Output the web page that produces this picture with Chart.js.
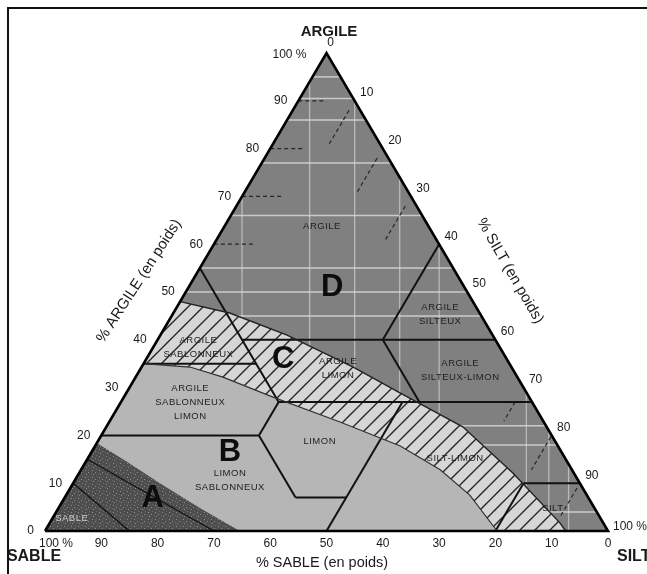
<!DOCTYPE html>
<html lang="fr">
<head>
<meta charset="UTF-8">
<title>Triangle des textures</title>
<script src="https://cdn.jsdelivr.net/npm/chart.js@4.4.0/dist/chart.umd.min.js"></script>
<style>
  html, body { margin: 0; padding: 0; background: #fff; }
  canvas { display: block; }
</style>
</head>
<body>
<canvas id="texture" width="647" height="574"></canvas>
<script>
// every point is [argile %, silt %] ; sable = 100 - argile - silt
const triangle = [[0, 0], [0, 100], [100, 0]];

// curved limits of the hatched band (group C)
const bandTop = [[48, 0], [45.6, 10], [41, 22.5], [34.3, 37.6], [28.9, 48.6], [21.8, 63.3], [12.1, 77.1], [1.7, 90.6], [0, 92.5]];
const bandBottom = [[35, 0], [34.3, 8.6], [32.2, 15.5], [28, 26.5], [22.8, 41], [17.8, 54.2], [12.8, 63.8], [7.5, 71.7], [0, 80.3]];

// group A, lower left corner
const zoneA = [[18.4, 0], [14.4, 7.5], [10, 15.4], [4.8, 25.1], [0, 34.6], [0, 0]];

// texture class limits
const classLines = [
  [[55, 0], [27, 28]],
  [[35, 0], [35, 20]],
  [[40, 15], [40, 60]],
  [[40, 40], [60, 40]],
  [[27, 28], [27, 73]],
  [[27, 53], [40, 40]],
  [[0, 50], [27, 50]],
  [[20, 28], [27, 28]],
  [[20, 0], [20, 28]],
  [[20, 28], [7, 41]],
  [[7, 41], [7, 50]],
  [[0, 80], [10, 80]],
  [[10, 80], [10, 90]]
];
const sandLines = [
  [[10, 0], [0, 15]],
  [[15, 0], [0, 30]]
];

// light grid and dashed guides seen in the dark zone
const gridClay = [95, 90.5, 86, 77, 66, 55, 50, 45, 22, 18, 4];
const gridX = [35, 47, 55, 63, 70, 85.5, 89.5, 93];
const guides = [
  [[60, 0], [60, 7]], [[70, 0], [70, 7]], [[80, 0], [80, 6]], [[90, 0], [90, 5]],
  [[88, 10], [81, 10]], [[78, 20], [71, 20]], [[68, 30], [61, 30]],
  [[27, 70], [23, 70]], [[19.7, 80], [12.8, 80]], [[9, 90], [3, 90]]
];

const sandTicks = [100, 90, 80, 70, 60, 50, 40, 30, 20, 10, 0];
const clayTicks = [0, 10, 20, 30, 40, 50, 60, 70, 80, 90, 100];
const siltTicks = [0, 10, 20, 30, 40, 50, 60, 70, 80, 90, 100];

const classNames = [
  ['ARGILE'], ['ARGILE', 'SILTEUX'], ['ARGILE', 'SABLONNEUX'], ['ARGILE', 'LIMON'],
  ['ARGILE', 'SILTEUX-LIMON'], ['ARGILE', 'SABLONNEUX', 'LIMON'], ['LIMON', 'SABLONNEUX'],
  ['LIMON'], ['SILT-LIMON'], ['SILT'], ['SABLE']
];
const classSpots = [
  [63.8, 17.3], [45.4, 47.5], [38.5, 8], [34.1, 35], [33.5, 57], [27, 12.3],
  [10.5, 27.6], [18.8, 39.4], [15.1, 65.3], [4.8, 87.8], [2.7, 3.4]
];
const groupNames = ['D', 'C', 'B', 'A'];
const groupSpots = [[51, 25.5], [35.8, 24.4], [16.5, 24.6], [6.9, 15.7]];

function pt(p) { return { x: p[1] + p[0] / 2, y: p[0] }; }

// vertical line x = const, from the base up to the side of the triangle
function verticalLine(x) {
  const top = x <= 50 ? 2 * x : 2 * (100 - x);
  return [[0, x], [top, x - top / 2]];
}

function hatch() {
  const c = document.createElement('canvas');
  c.width = 15; c.height = 15;
  const g = c.getContext('2d');
  g.fillStyle = '#d6d6d6';
  g.fillRect(0, 0, 15, 15);
  g.strokeStyle = '#262626';
  g.lineWidth = 1.4;
  g.beginPath();
  g.moveTo(0, 15); g.lineTo(15, 0);
  g.moveTo(-2, 2); g.lineTo(2, -2);
  g.moveTo(13, 17); g.lineTo(17, 13);
  g.stroke();
  return g.createPattern(c, 'repeat');
}

function speckle() {
  const c = document.createElement('canvas');
  c.width = 7; c.height = 7;
  const g = c.getContext('2d');
  g.fillStyle = '#4e4e4e';
  g.fillRect(0, 0, 7, 7);
  g.fillStyle = '#8e8e8e';
  g.fillRect(1, 1, 1, 1);
  g.fillRect(4, 3, 1, 1);
  g.fillRect(2, 5, 1, 1);
  g.fillStyle = '#6a6a6a';
  g.fillRect(5, 0, 1, 1);
  g.fillRect(0, 4, 1, 1);
  return g.createPattern(c, 'repeat');
}

function area(points, color, order) {
  return {
    data: points.map(pt), showLine: true, fill: 'shape', backgroundColor: color,
    borderColor: 'rgba(0,0,0,0)', borderWidth: 0, pointRadius: 0, tension: 0, order: order
  };
}
function line(points, color, width, dash, order) {
  return {
    data: points.map(pt), showLine: true, fill: false, borderColor: color, borderWidth: width,
    borderDash: dash, pointRadius: 0, tension: 0, order: order, clip: false
  };
}

const datasets = [];
datasets.push(area(triangle, '#808080', 100));
gridClay.forEach(c => datasets.push(line([[c, 0], [c, 100 - c]], 'rgba(215,215,215,0.85)', 1.5, [], 90)));
gridX.forEach(x => datasets.push(line(verticalLine(x), 'rgba(205,205,205,0.75)', 1.3, [], 90)));
guides.forEach(g => datasets.push(line(g, '#262626', 1.2, [4, 3], 85)));
datasets.push(area(bandBottom.concat([[0, 0]]), '#b6b6b6', 80));
datasets.push(area(bandTop.concat(bandBottom.slice().reverse()), hatch(), 70));
datasets.push(area(zoneA, speckle(), 60));
sandLines.forEach(l => datasets.push(line(l, '#111', 1.3, [], 50)));
classLines.forEach(l => datasets.push(line(l, '#111', 2, [], 40)));
datasets.push(line(bandTop, '#222', 1.4, [], 30));
datasets.push(line(bandBottom, '#333', 1.2, [], 30));
datasets.push(line(triangle.concat([triangle[0]]), '#000', 2.6, [], 20));

const frame = {
  id: 'frame',
  beforeDraw(chart) {
    const ctx = chart.ctx;
    ctx.save();
    ctx.fillStyle = '#fff';
    ctx.fillRect(0, 0, chart.width, chart.height);
    ctx.strokeStyle = '#111';
    ctx.lineWidth = 2;
    ctx.beginPath();
    ctx.moveTo(8, chart.height); ctx.lineTo(8, 8); ctx.lineTo(chart.width, 8);
    ctx.stroke();
    ctx.restore();
  }
};

const texts = {
  id: 'texts',
  afterDatasetsDraw(chart) {
    const ctx = chart.ctx;
    const xs = chart.scales.x, ys = chart.scales.y;
    const P = (clay, silt) => [xs.getPixelForValue(silt + clay / 2), ys.getPixelForValue(clay)];
    const font = (s, b) => (b ? 'bold ' : '') + s + 'px "Liberation Sans", Arial, sans-serif';
    ctx.save();
    ctx.fillStyle = '#1a1a1a';
    ctx.textBaseline = 'middle';

    // ticks
    ctx.font = font(12);
    clayTicks.forEach(c => {
      const [x, y] = P(c, 0);
      ctx.textAlign = 'right';
      ctx.fillText(c === 100 ? '100 %' : String(c), x - (c === 100 ? 20 : 11), c === 100 ? y + 2 : y);
    });
    siltTicks.forEach(s => {
      const [x, y] = P(100 - s, s);
      if (s === 0) { ctx.textAlign = 'center'; ctx.fillText('0', x + 4, y - 10); return; }
      if (s === 100) { ctx.textAlign = 'left'; ctx.fillText('100 %', x + 5, y - 4); return; }
      ctx.textAlign = 'center';
      ctx.fillText(String(s), x + 12, y - 8);
    });
    sandTicks.forEach(v => {
      const [x, y] = P(0, 100 - v);
      if (v === 100) { ctx.textAlign = 'left'; ctx.fillText('100 %', x - 6, y + 13); return; }
      ctx.textAlign = 'center';
      ctx.fillText(String(v), x, y + 13);
    });

    // axis titles
    ctx.font = font(14.5);
    ctx.textAlign = 'center';
    ctx.fillText('% SABLE (en poids)', 322, 563);
    ctx.font = font(15);
    ctx.save();
    ctx.translate(139, 281);
    ctx.rotate(-57 * Math.PI / 180);
    ctx.fillText('% ARGILE (en poids)', 0, 0);
    ctx.restore();
    ctx.save();
    ctx.translate(510, 271);
    ctx.rotate(60 * Math.PI / 180);
    ctx.fillText('% SILT (en poids)', 0, 0);
    ctx.restore();

    ctx.font = font(15, true);
    ctx.fillText('ARGILE', 329, 32);
    ctx.font = font(16, true);
    ctx.fillText('SABLE', 34, 557);
    ctx.textAlign = 'left';
    ctx.fillText('SILT', 617, 557);

    // class names
    ctx.textAlign = 'center';
    ctx.font = font(9.5);
    ctx.letterSpacing = '0.5px';
    classNames.forEach((name, i) => {
      const [x, y] = P(classSpots[i][0], classSpots[i][1]);
      ctx.fillStyle = name[0] === 'SABLE' ? '#cfcfcf' : '#1e1e1e';
      const h = 14;
      name.forEach((t, k) => ctx.fillText(t, x, y + (k - (name.length - 1) / 2) * h));
    });
    ctx.letterSpacing = '0px';

    // group letters
    ctx.fillStyle = '#0d0d0d';
    ctx.font = font(31, true);
    groupNames.forEach((g, i) => {
      const [x, y] = P(groupSpots[i][0], groupSpots[i][1]);
      ctx.fillText(g, x, y);
    });
    ctx.restore();
  }
};

new Chart(document.getElementById('texture'), {
  type: 'scatter',
  data: { datasets: datasets },
  options: {
    responsive: false,
    animation: false,
    events: [],
    layout: { padding: { left: 45, right: 39, top: 53, bottom: 43 } },
    scales: {
      x: { type: 'linear', min: 0, max: 100, display: false },
      y: { type: 'linear', min: 0, max: 100, display: false }
    },
    plugins: { legend: { display: false }, tooltip: { enabled: false } }
  },
  plugins: [frame, texts]
});
</script>
</body>
</html>
